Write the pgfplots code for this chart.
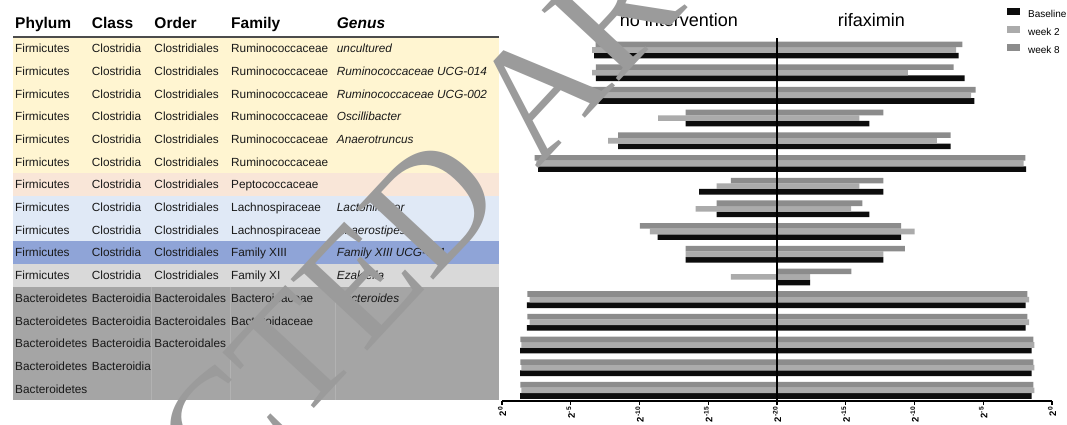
\documentclass[border=0pt]{standalone}
\usepackage{pgfplots}
\usepackage{pgfplotstable}
\pgfplotsset{compat=1.18}
\usepackage{fontspec}
\setmainfont{Liberation Sans}
\newfontfamily\wmfont{Liberation Serif}
\definecolor{rowY}{HTML}{FFF5D1}
\definecolor{rowP}{HTML}{F9E6D8}
\definecolor{rowLB}{HTML}{E0E9F6}
\definecolor{rowB}{HTML}{8FA4D7}
\definecolor{rowLG}{HTML}{D9D9D9}
\definecolor{rowG}{HTML}{A5A5A5}
\definecolor{wkE}{HTML}{8C8C8C}
\definecolor{wkT}{HTML}{ABABAB}
\definecolor{bas}{HTML}{0C0C0C}
\definecolor{wm}{HTML}{9B9B9B}

\pgfplotstableread{
row bL bR tL tR eL eR
1 13.30 13.20 13.45 13.03 13.20 13.49
2 13.18 13.64 13.45 9.52 13.18 12.84
3 13.00 14.36 13.90 14.12 13.98 14.44
4 6.65 6.72 8.64 5.99 6.65 7.74
5 11.55 12.62 12.28 11.63 11.55 12.62
6 17.38 18.11 17.50 17.93 17.62 18.06
7 5.66 7.74 4.39 5.99 3.35 7.74
8 4.39 6.72 5.92 5.39 4.39 6.21
9 8.69 9.03 9.25 10.00 9.97 9.03
10 6.65 7.74 6.65 7.74 6.65 9.30
11 0 2.40 3.35 2.40 0 5.41
12 18.20 18.08 18.00 18.33 18.15 18.20
13 18.20 18.08 18.00 18.33 18.15 18.20
14 18.69 18.52 18.59 18.71 18.66 18.64
15 18.69 18.52 18.59 18.71 18.66 18.64
16 18.69 18.52 18.59 18.71 18.66 18.64
}\data

\tikzset{tt/.style={anchor=base west, inner sep=0pt, text=black!90, font=\fontsize{11.8bp}{14bp}\selectfont},
  th/.style={anchor=base west, inner sep=0pt, font=\fontsize{15.5bp}{18bp}\selectfont\bfseries}}
\newcommand\trow[6]{%
  \pgfmathsetmacro\yb{29.95+22.7*#1}%
  \node[tt] at (15,\yb) {#2};
  \node[tt] at (91.7,\yb) {#3};
  \node[tt] at (154.3,\yb) {#4};
  \node[tt] at (231,\yb) {#5};
  \node[tt,font=\fontsize{11.8bp}{14bp}\selectfont\itshape] at (336.7,\yb) {#6};
}

\begin{document}
\begin{tikzpicture}
\useasboundingbox (0,0) rectangle (1067bp,-425bp);
\fill[white] (0,0) rectangle (1067bp,-425bp);
\begin{scope}[x=1bp,y=-1bp]
  \fill[rowY] (13.3,37) rectangle (499,173.2);
  \fill[rowP] (13.3,173.2) rectangle (499,195.9);
  \fill[rowLB] (13.3,195.9) rectangle (499,241.3);
  \fill[rowB] (13.3,241.3) rectangle (499,264);
  \fill[rowLG] (13.3,264) rectangle (499,286.7);
  \fill[rowG] (13.3,286.7) rectangle (499,400.2);
  \foreach \xx in {151.7,230,335} \draw[color=rowG!85!white, line width=0.6bp] (\xx,286.7) -- (\xx,400.2);
  \draw[line width=1.5bp, color=black!70] (13.3,36.8) -- (499,36.8);
  \node[th] at (15,28.3) {Phylum};
  \node[th] at (91.7,28.3) {Class};
  \node[th] at (154.3,28.3) {Order};
  \node[th] at (231,28.3) {Family};
  \node[th,font=\fontsize{15.5bp}{18bp}\selectfont\bfseries\itshape] at (336.7,28.3) {Genus};
  \trow{1}{Firmicutes}{Clostridia}{Clostridiales}{Ruminococcaceae}{uncultured}
  \trow{2}{Firmicutes}{Clostridia}{Clostridiales}{Ruminococcaceae}{Ruminococcaceae UCG-014}
  \trow{3}{Firmicutes}{Clostridia}{Clostridiales}{Ruminococcaceae}{Ruminococcaceae UCG-002}
  \trow{4}{Firmicutes}{Clostridia}{Clostridiales}{Ruminococcaceae}{Oscillibacter}
  \trow{5}{Firmicutes}{Clostridia}{Clostridiales}{Ruminococcaceae}{Anaerotruncus}
  \trow{6}{Firmicutes}{Clostridia}{Clostridiales}{Ruminococcaceae}{}
  \trow{7}{Firmicutes}{Clostridia}{Clostridiales}{Peptococcaceae}{}
  \trow{8}{Firmicutes}{Clostridia}{Clostridiales}{Lachnospiraceae}{Lactonifactor}
  \trow{9}{Firmicutes}{Clostridia}{Clostridiales}{Lachnospiraceae}{Anaerostipes}
  \trow{10}{Firmicutes}{Clostridia}{Clostridiales}{Family XIII}{Family XIII UCG-001}
  \trow{11}{Firmicutes}{Clostridia}{Clostridiales}{Family XI}{Ezakiella}
  \trow{12}{Bacteroidetes}{Bacteroidia}{Bacteroidales}{Bacteroidaceae}{Bacteroides}
  \trow{13}{Bacteroidetes}{Bacteroidia}{Bacteroidales}{Bacteroidaceae}{}
  \trow{14}{Bacteroidetes}{Bacteroidia}{Bacteroidales}{}{}
  \trow{15}{Bacteroidetes}{Bacteroidia}{}{}{}
  \trow{16}{Bacteroidetes}{}{}{}{}
  \node[anchor=base, inner sep=0pt, font=\fontsize{18bp}{20bp}\selectfont] at (679,26) {no intervention};
  \node[anchor=base, inner sep=0pt, font=\fontsize{18bp}{20bp}\selectfont] at (871.5,26) {rifaximin};
\end{scope}

\begin{axis}[
  at={(502bp,-401bp)}, anchor=south west,
  scale only axis, width=550bp, height=363bp,
  xmin=-20, xmax=20, ymin=0.471, ymax=16.469, y dir=reverse,
  axis x line*=bottom, axis y line=none,
  x axis line style={-, line width=1.3bp},
  axis on top,
  xtick={-20,-15,...,20},
  xticklabels={{2\textsuperscript{0}},{2\textsuperscript{-5}},{2\textsuperscript{-10}},{2\textsuperscript{-15}},{2\textsuperscript{-20}},{2\textsuperscript{-15}},{2\textsuperscript{-10}},{2\textsuperscript{-5}},{2\textsuperscript{0}}},
  xticklabel style={rotate=90, anchor=east, font=\fontsize{9.5bp}{9.5bp}\selectfont\bfseries, inner sep=1.5bp},
  tick align=outside, major tick length=4bp,
  xtick style={black, line width=1.1bp},
  ytick=\empty,
  extra x ticks={0}, extra x tick labels={},
  extra x tick style={grid=major, major grid style={black, line width=1.6bp}, major tick length=0pt},
  legend style={draw=none, fill=none, at={(0.918,1.0826)}, anchor=north west,
    font=\fontsize{10bp}{11bp}\selectfont, row sep=6bp, inner sep=0pt,
    nodes={inner sep=0pt, text height=7.5bp, text depth=2.5bp}},
  legend cell align=left,
  legend image code/.code={\fill[#1] (0bp,-0.2bp) rectangle (13bp,6.8bp);},
  every axis plot/.append style={xbar, bar width=5.6bp, bar shift=0pt, draw=none},
]
\addplot[fill=bas] table[x=bR, y expr=\thisrow{row}+0.2468] {\data};
\addlegendentry{\hspace{8bp}Baseline}
\addplot[fill=wkT] table[x=tR, y expr=\thisrow{row}] {\data};
\addlegendentry{\hspace{8bp}week 2}
\addplot[fill=wkE] table[x=eR, y expr=\thisrow{row}-0.2468] {\data};
\addlegendentry{\hspace{8bp}week 8}
\addplot[fill=bas, forget plot] table[x expr=-\thisrow{bL}, y expr=\thisrow{row}+0.2468] {\data};
\addplot[fill=wkT, forget plot] table[x expr=-\thisrow{tL}, y expr=\thisrow{row}] {\data};
\addplot[fill=wkE, forget plot] table[x expr=-\thisrow{eL}, y expr=\thisrow{row}-0.2468] {\data};
\end{axis}

\begin{scope}[x=1bp,y=-1bp]
  \clip (0,0) rectangle (1067,425);
  \node[text=wm, rotate=47, anchor=base west, inner sep=0pt, font=\wmfont\fontsize{160bp}{160bp}\selectfont] at (-133,888) {RETRACTED ARTICLE};
\end{scope}
\end{tikzpicture}
\end{document}
